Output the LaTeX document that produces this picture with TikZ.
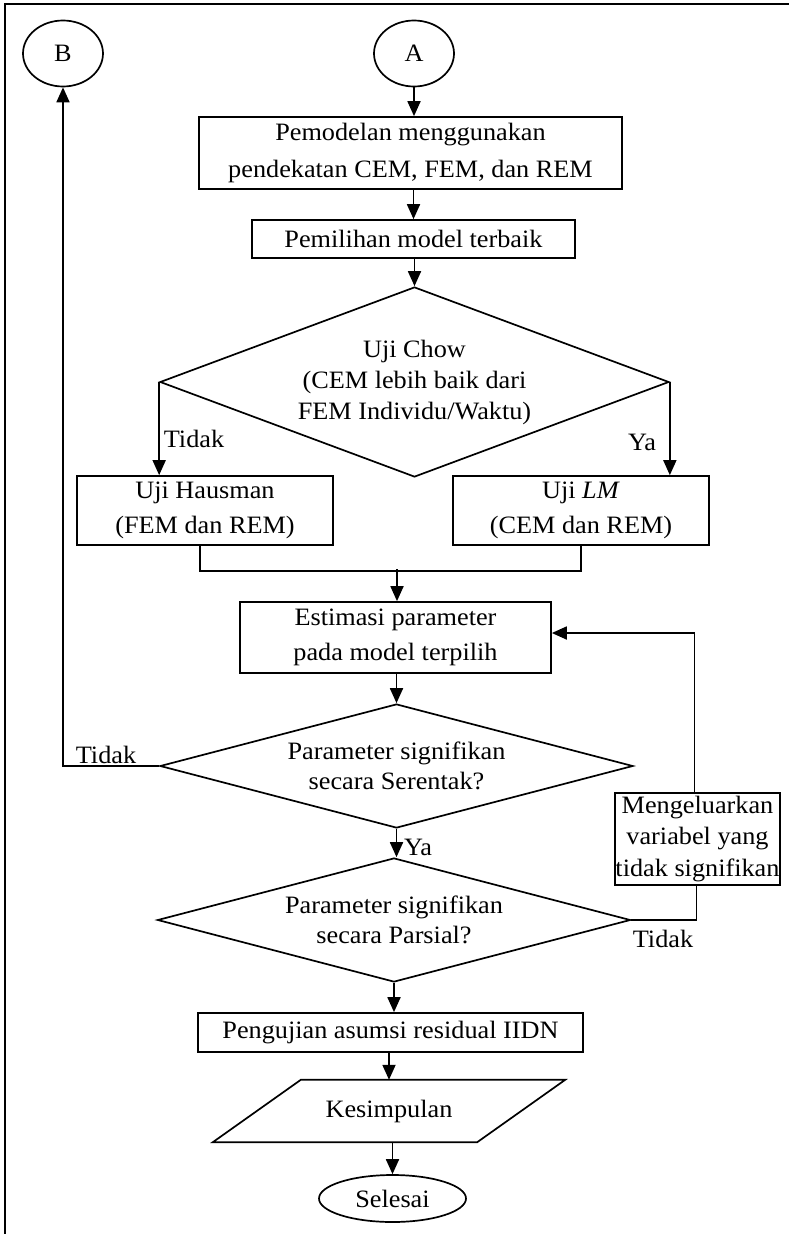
\documentclass[tikz,border=0pt]{standalone}
\usepackage{fontspec}
\setmainfont{Liberation Serif}[FakeStretch=1.05]
\usetikzlibrary{shapes.geometric,arrows.meta}
\newcommand{\fsz}[1]{\fontsize{25}{#1}\selectfont}
\begin{document}
\begin{tikzpicture}[x=1pt,y=-1pt,
  every node/.style={font=\fsz{30}},
  box/.style={draw, line width=1.7pt, inner sep=0pt, align=center},
  dia/.style={diamond, draw, line width=1.7pt, inner sep=0pt, align=center},
  oval/.style={ellipse, draw, line width=1.7pt, inner sep=0pt},
  arr/.style={line width=1.8pt, -{Triangle[length=15pt,width=13pt]}},
  ln/.style={line width=1.8pt},
  lbl/.style={inner sep=0pt}]
\useasboundingbox (0,0) rectangle (789,1234);
\draw[line width=2pt] (5,1250) -- (5,4) -- (800,4);

\node[oval, minimum width=80pt, minimum height=66pt] (B) at (63,53.5) {B};
\node[oval, minimum width=80pt, minimum height=66pt] (A) at (414,53.5) {A};
\node[box, minimum width=423pt, minimum height=72pt, font=\fsz{37}] (box1) at (410.5,153) {Pemodelan menggunakan\\pendekatan CEM, FEM, dan REM};
\node[box, minimum width=323pt, minimum height=38pt] (box2) at (413.5,239) {Pemilihan model terbaik};
\node[dia, minimum width=509pt, minimum height=190pt, shape aspect=2.68, font=\fsz{31}] (d1) at (414.5,382) {Uji Chow\\(CEM lebih baik dari\\FEM Individu/Waktu)};
\node[box, minimum width=256pt, minimum height=69pt, font=\fsz{35}] (haus) at (205,510.5) {Uji Hausman\\(FEM dan REM)};
\node[box, minimum width=256pt, minimum height=69pt, font=\fsz{35}] (lm) at (581,510.5) {Uji \textit{LM}\\(CEM dan REM)};
\coordinate (m) at (397,571);
\node[box, minimum width=311pt, minimum height=71pt, font=\fsz{35}] (est) at (395.5,637.5) {Estimasi parameter\\pada model terpilih};
\node[dia, minimum width=473pt, minimum height=124pt, shape aspect=3.8] (d2) at (396.5,766) {Parameter signifikan\\secara Serentak?};
\node[dia, minimum width=473pt, minimum height=124pt, shape aspect=3.8] (d3) at (394,920) {Parameter signifikan\\secara Parsial?};
\node[box, minimum width=165pt, minimum height=92pt, font=\fsz{31.5}] (mk) at (697.5,839) {Mengeluarkan\\variabel yang\\tidak signifikan};
\node[box, minimum width=385pt, minimum height=39pt] (peng) at (390.5,1032.5) {Pengujian asumsi residual IIDN};
\node[minimum width=264pt, minimum height=62pt, inner sep=0pt] (kes) at (389,1111) {Kesimpulan};
\draw[line width=1.7pt] ([xshift=44pt]kes.north west) -- ([xshift=44pt]kes.north east)
  -- ([xshift=-44pt]kes.south east) -- ([xshift=-44pt]kes.south west) -- cycle;
\node[oval, minimum width=147pt, minimum height=47pt] (sel) at (392.5,1198.5) {Selesai};

% connectors
\draw[arr] (A.south) -- (A.south |- box1.north);
\draw[arr] (box1.south -| box2.north) -- (box2.north);
\draw[arr] (box2.south -| d1.north) -- (d1.north);
\draw[arr] (d1.west) -- (d1.west |- haus.north);
\draw[arr] (d1.east) -- (d1.east |- lm.north);
\draw[ln] ([xshift=-5pt]haus.south) |- (m) -| (lm.south);
\draw[arr] ([yshift=2pt]m) -- (m |- est.north);
\draw[arr] (est.south -| d2.north) -- (d2.north);
\draw[arr] (d2.west) -| (B.south);
\draw[arr] (d2.south) -- (d2.south |- d3.north);
\draw[ln] (d3.east) -| ([xshift=-1pt]mk.south);
\draw[arr] ([xshift=-3pt]mk.north) |- ([yshift=4.5pt]est.east);
\draw[arr] (d3.south) -- (d3.south |- peng.north);
\draw[arr] (peng.south -| kes.north) -- (kes.north);
\draw[arr] (kes.south -| sel.north) -- (sel.north);

% labels
\node[lbl] (t1) at (194,439) {Tidak};
\node[lbl] (y1) at (642,442) {Ya};
\node[lbl] (t2) at (106,755) {Tidak};
\node[lbl] (y2) at (418,847) {Ya};
\node[lbl] (t3) at (663,939) {Tidak};
\end{tikzpicture}
\end{document}
